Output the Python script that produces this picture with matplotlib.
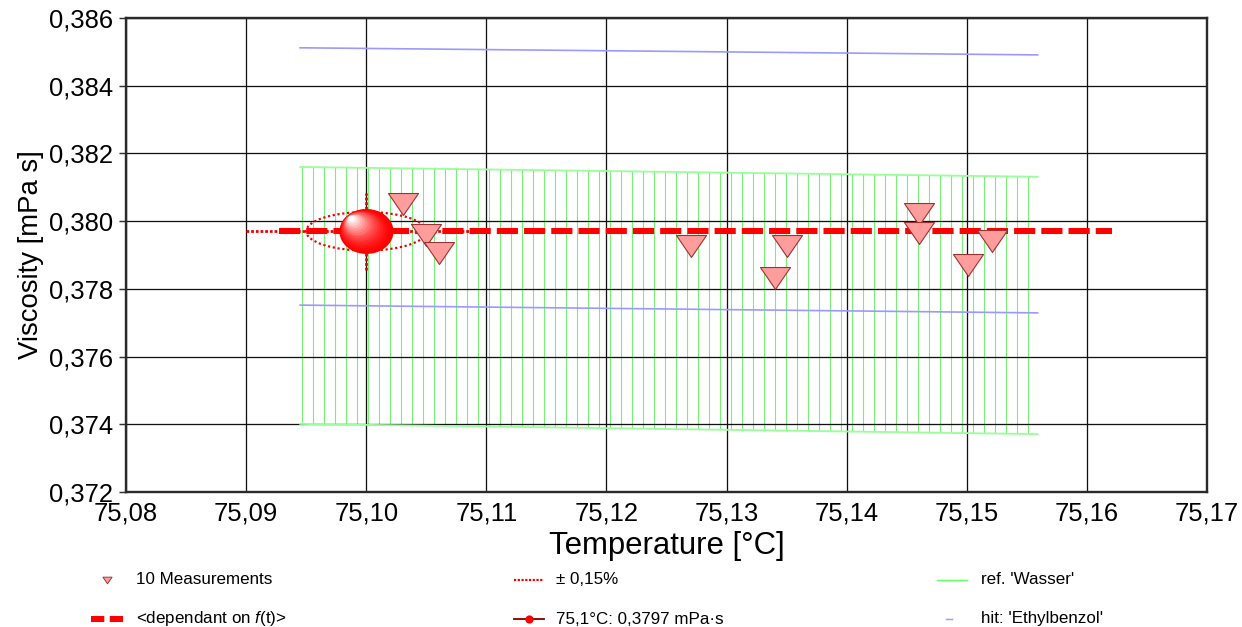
import numpy as np
import matplotlib
matplotlib.use("Agg")
import matplotlib.pyplot as plt
from matplotlib.path import Path
from matplotlib.patches import Ellipse
from matplotlib.lines import Line2D
from matplotlib.ticker import FuncFormatter, MultipleLocator
from matplotlib.transforms import offset_copy

plt.rcParams['font.family'] = ['Liberation Sans', 'DejaVu Sans']
plt.rcParams['mathtext.fontset'] = 'custom'
plt.rcParams['mathtext.it'] = 'Liberation Sans:italic'
plt.rcParams['mathtext.rm'] = 'Liberation Sans'
plt.rcParams['hatch.linewidth'] = 0.6

# measurements
meas_t = [75.1031, 75.1050, 75.1061, 75.1270, 75.1340, 75.1350, 75.1460, 75.1460, 75.1501, 75.1521]
meas_eta = [0.38052, 0.37959, 0.37906, 0.37927, 0.37832, 0.37927, 0.38021, 0.37965, 0.37870, 0.37941]

# fitted result and tolerance
fit_t = 75.10
fit_eta = 0.3797
tol = 0.0015          # ± 0,15 %
tol_t = 0.005
dep_t = [75.0927, 75.1621]
dep_eta = [0.3797, 0.3797]

# reference 'Wasser' band and hit 'Ethylbenzol'
ref_t = [75.0945, 75.1559]
ref_hi = [0.38160, 0.38131]
ref_lo = [0.37401, 0.37371]
hit_t = [75.0945, 75.1559]
hit_hi = [0.38512, 0.38491]
hit_lo = [0.37752, 0.37729]

DPI = 132
fig = plt.figure(figsize=(1242 / DPI, 627 / DPI), dpi=DPI)
ax = fig.add_axes([126 / 1242, 1 - 492 / 627, (1207 - 126) / 1242, (492 - 18) / 627])

ax.set_xlim(75.08, 75.17)
ax.set_ylim(0.372, 0.386)
ax.xaxis.set_major_locator(MultipleLocator(0.01))
ax.yaxis.set_major_locator(MultipleLocator(0.002))
ax.xaxis.set_major_formatter(FuncFormatter(lambda v, p: f"{v:.2f}".replace('.', ',')))
ax.yaxis.set_major_formatter(FuncFormatter(lambda v, p: f"{v:.3f}".replace('.', ',')))
ax.tick_params(axis='x', length=0, pad=5, labelsize=14)
ax.tick_params(axis='y', length=4, width=0.8, pad=3, labelsize=14, color='#333333')
ax.set_axisbelow(True)
ax.grid(True, color='#111111', linewidth=0.7)
for s in ax.spines.values():
    s.set_color('#2a2a2a')
    s.set_linewidth(1.3)

ax.set_xlabel('Temperature [°C]', fontsize=17, labelpad=3)
ax.set_ylabel('Viscosity [mPa s]', fontsize=15, labelpad=3)

# reference band, hatched
ax.fill_between(ref_t, ref_lo, ref_hi, facecolor='none', edgecolor='#77f077',
                hatch='||', linewidth=0, zorder=0.4)
ax.plot(ref_t, ref_hi, color='#99ff99', lw=1.0, zorder=1)
ax.plot(ref_t, ref_lo, color='#99ff99', lw=1.0, zorder=1)

# hit lines
ax.plot(hit_t, hit_hi, color='#9999ff', lw=0.9, zorder=1)
ax.plot(hit_t, hit_lo, color='#9999ff', lw=0.9, zorder=1)

# error cross and tolerance ellipse
ax.plot([fit_t - 2 * tol_t, fit_t + 2 * tol_t], [fit_eta, fit_eta],
        color='#ee0000', lw=1.5, ls=(0, (1, 0.7)), zorder=2)
ax.plot([fit_t, fit_t], [fit_eta * (1 - 2 * tol), fit_eta * (1 + 2 * tol)],
        color='#ee0000', lw=1.5, ls=(0, (1, 0.7)), zorder=2)
ax.add_patch(Ellipse((fit_t, fit_eta), 2 * tol_t, 2 * tol * fit_eta, fill=False,
                     edgecolor='#ee0000', lw=1.2, ls=(0, (1, 1.2)), zorder=2))

# dependant line
ax.plot(dep_t, dep_eta, color='#ff0000', lw=3.3, ls=(0, (3.5, 1.0)), zorder=3)

# measurements: flat down-pointing triangles
tri = Path([(-1, 0.73), (1, 0.73), (0, -0.73), (-1, 0.73)], closed=True)
ax.plot(meas_t, meas_eta, ls='none', marker=tri, ms=16.4, mfc='#ff9c9c',
        mec='#993333', mew=0.6, zorder=4)

# shaded sphere for the result
th = np.linspace(0, 2 * np.pi, 80)
ell = Path(np.column_stack([np.cos(th), 0.83 * np.sin(th)]))
n = 16
for i in range(n):
    f = i / (n - 1)
    g = f ** 1.6
    tr = offset_copy(ax.transData, fig=fig, x=-8.5 * f, y=7.0 * f, units='points')
    ax.plot([fit_t], [fit_eta], marker=ell, ms=29.5 * (1 - 0.88 * f), mfc=(1, g, g),
            mec='none', ls='none', transform=tr, zorder=5 + 0.01 * i)

# legend below the plot
def fx(px):
    return px / 1242

def fy(py):
    return 1 - py / 627

def legend_entry(xs, y, text, tx, **kw):
    fig.add_artist(Line2D([fx(x) for x in xs], [fy(y)] * len(xs),
                          transform=fig.transFigure, **kw))
    fig.text(fx(tx), fy(y), text, fontsize=9.3, va='center', ha='left')

r1, r2 = 580, 619
legend_entry([107], r1, '10 Measurements', 136, ls='none', marker=tri, ms=5,
             mfc='#ff9c9c', mec='#993333', mew=0.5)
legend_entry([91, 124], r2, '<dependant on $f$(t)>', 136, color='#ff0000', lw=3.3,
             ls=(0, (2.2, 0.9)))
legend_entry([514, 544], r1, '± 0,15%', 556, color='#ee0000', lw=1.2, ls=(0, (1, 0.7)))
legend_entry([514, 544], r2, '75,1°C: 0,3797 mPa·s', 556, color='#880000', lw=1.0)
fig.add_artist(Line2D([fx(529)], [fy(r2)], transform=fig.transFigure, ls='none',
                      marker='o', ms=3.5, mfc='#ff0000', mec='#ff0000'))
legend_entry([937, 967], r1, "ref. 'Wasser'", 981, color='#66ff66', lw=0.8)
legend_entry([946, 952], r2, "hit: 'Ethylbenzol'", 981, color='#9999ff', lw=0.8)

fig.savefig('out.png', dpi=DPI)
